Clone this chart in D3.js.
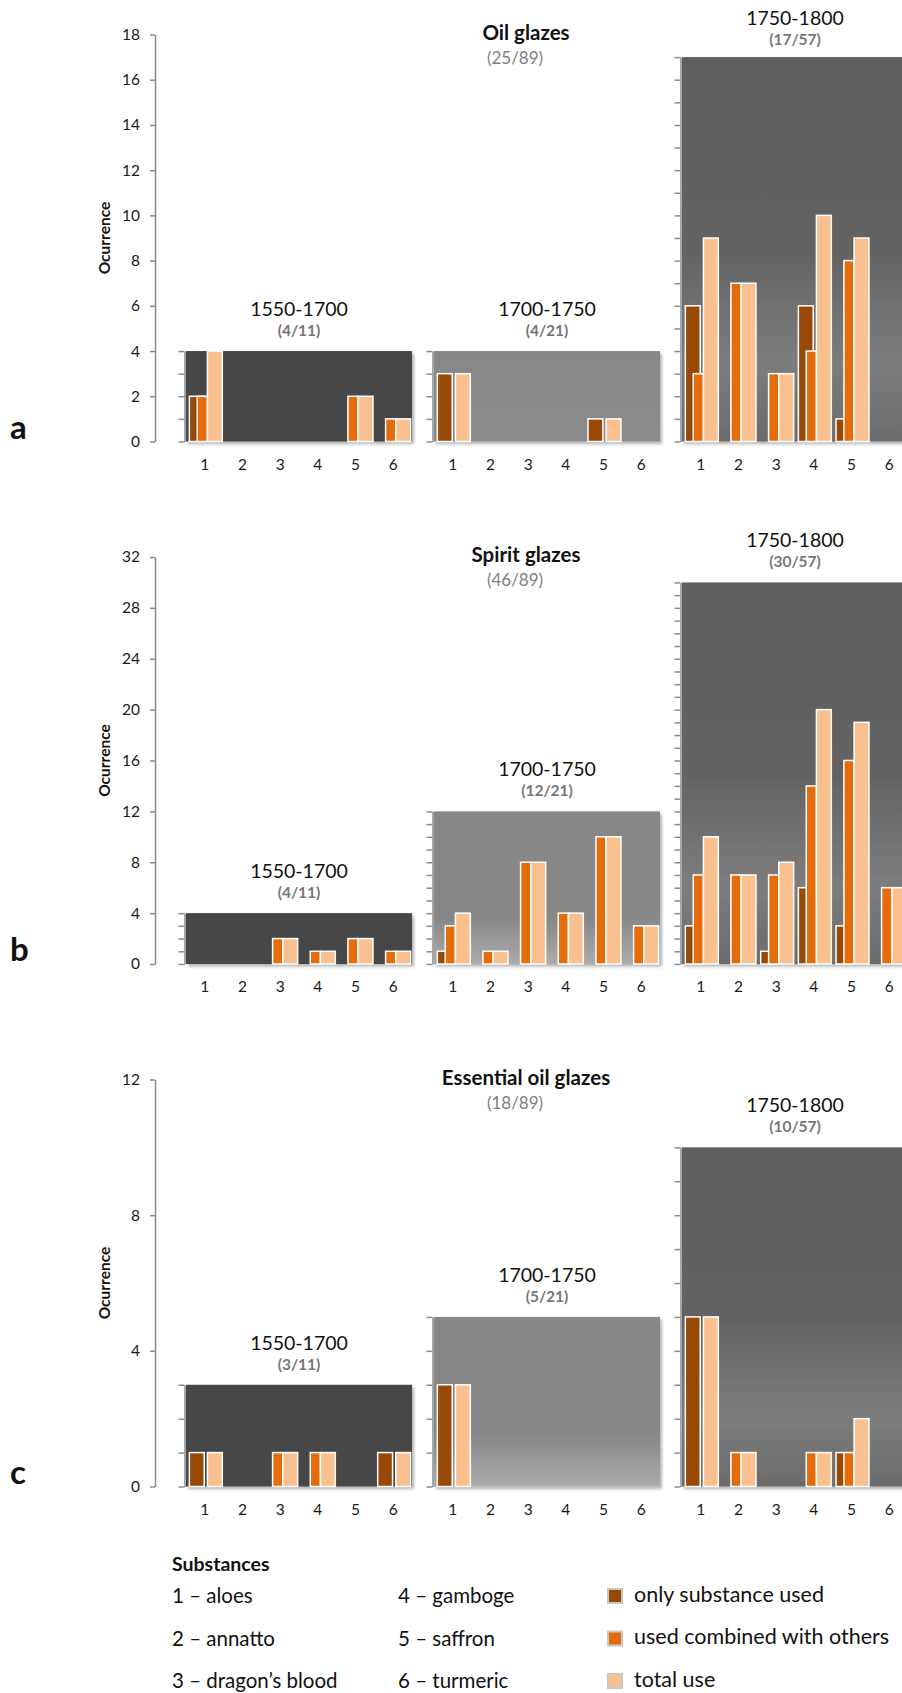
<!DOCTYPE html>
<html>
<head>
<meta charset="utf-8">
<script src="https://cdn.jsdelivr.net/npm/d3@7"></script>
<style>
  body { margin: 0; background: #fff; }
  svg { display: block; font-family: Lato, 'Open Sans', sans-serif; }
  .axis path, .axis line { stroke: #8a8a8a; stroke-width: 1.5; }
  .axis text { fill: #1a1a1a; font-size: 15.5px; font-family: Lato, sans-serif; }
</style>
</head>
<body>
<svg id="chart" width="902" height="1693"></svg>
<script>
const categories = [1, 2, 3, 4, 5, 6];
const periods = ['1550-1700', '1700-1750', '1750-1800'];
const periodTotals = [11, 21, 57];
const glazeTitles = ['Oil glazes', 'Spirit glazes', 'Essential oil glazes'];
const glazeCounts = [25, 46, 18];
const glazeTotal = 89;
const rowLetters = ['a', 'b', 'c'];
const yMax = [18, 32, 12];
const yStep = [2, 4, 4];
// samples per period: numerator of the small label and height of the grey box
const periodCounts = [[4, 4, 17], [4, 12, 30], [3, 5, 10]];

// per period, per substance 1..6
const oilOnly = [[2, 0, 0, 0, 0, 0], [3, 0, 0, 0, 1, 0], [6, 0, 0, 6, 1, 0]];
const oilCombined = [[2, 0, 0, 0, 2, 1], [0, 0, 0, 0, 0, 0], [3, 7, 3, 4, 8, 0]];
const oilTotal = [[4, 0, 0, 0, 2, 1], [3, 0, 0, 0, 1, 0], [9, 7, 3, 10, 9, 0]];

const spiritOnly = [[0, 0, 0, 0, 0, 0], [1, 0, 0, 0, 0, 0], [3, 0, 1, 6, 3, 0]];
const spiritCombined = [[0, 0, 2, 1, 2, 1], [3, 1, 8, 4, 10, 3], [7, 7, 7, 14, 16, 6]];
const spiritTotal = [[0, 0, 2, 1, 2, 1], [4, 1, 8, 4, 10, 3], [10, 7, 8, 20, 19, 6]];

const essentialOnly = [[1, 0, 0, 0, 0, 1], [3, 0, 0, 0, 0, 0], [5, 0, 0, 0, 1, 0]];
const essentialCombined = [[0, 0, 1, 1, 0, 0], [0, 0, 0, 0, 0, 0], [0, 1, 0, 1, 1, 0]];
const essentialTotal = [[1, 0, 1, 1, 0, 1], [3, 0, 0, 0, 0, 0], [5, 1, 0, 1, 2, 0]];

const substances = ['aloes', 'annatto', 'dragon’s blood', 'gamboge', 'saffron', 'turmeric'];
const seriesNames = ['only substance used', 'used combined with others', 'total use'];
const seriesColors = ['#984807', '#e46c0a', '#fac090'];

const onlyUsed = [oilOnly, spiritOnly, essentialOnly];
const combinedUsed = [oilCombined, spiritCombined, essentialCombined];
const totalUsed = [oilTotal, spiritTotal, essentialTotal];

const svg = d3.select('#chart');
const axisX = 155;
const panelLeft = 186;
const panelWidth = 226;
const panelStep = 248;
const rowHeight = 407;
const rowGap = 522.5;

const defs = svg.append('defs');

const shadow = defs.append('filter').attr('id', 'shadow')
  .attr('x', '-5%').attr('y', '-5%').attr('width', '115%').attr('height', '115%');
shadow.append('feDropShadow')
  .attr('dx', 2).attr('dy', 2.5).attr('stdDeviation', 1.8)
  .attr('flood-color', '#000').attr('flood-opacity', 0.3);

// gradient of each period box; the middle box only lightens in the taller rows
function panelStops(r, p) {
  if (p === 0) return [[0, '#474747'], [1, '#474747']];
  if (p === 1) {
    return r === 0
      ? [[0, '#878787'], [1, '#8b8b8b']]
      : [[0, '#878787'], [0.7, '#878787'], [1, '#acacac']];
  }
  return [[0, '#5e5e5e'], [0.5, '#636363'], [0.8, '#7d7d7d'], [1, '#6b6b6b']];
}

rowLetters.forEach((letter, r) => {
  const top = 34.5 + r * rowGap;
  const y = d3.scaleLinear().domain([0, yMax[r]]).range([top + rowHeight, top]);
  const row = svg.append('g');

  row.append('g')
    .attr('class', 'axis')
    .attr('transform', `translate(${axisX},0)`)
    .call(d3.axisLeft(y).tickValues(d3.range(0, yMax[r] + 1, yStep[r])).tickSize(5).tickSizeOuter(0).tickPadding(10));

  row.append('text')
    .attr('transform', `translate(110,${y(yMax[r] / 2)}) rotate(-90)`)
    .attr('text-anchor', 'middle')
    .attr('font-size', 15.5).attr('font-weight', 700).attr('fill', '#111')
    .text('Ocurrence');

  row.append('text')
    .attr('x', 10).attr('y', y(0) - 3)
    .attr('font-size', 33).attr('font-weight', 700).attr('fill', '#111')
    .text(letter);

  row.append('text')
    .attr('x', 526).attr('y', top + 5)
    .attr('text-anchor', 'middle')
    .attr('font-size', 20.5).attr('font-weight', 700).attr('fill', '#111')
    .text(glazeTitles[r]);

  row.append('text')
    .attr('x', 515).attr('y', top + 29)
    .attr('text-anchor', 'middle')
    .attr('font-size', 17).attr('fill', '#808080')
    .text(`(${glazeCounts[r]}/${glazeTotal})`);

  periods.forEach((period, p) => {
    const left = panelLeft + p * panelStep;
    const count = periodCounts[r][p];
    const x = d3.scaleBand().domain(categories).range([left, left + panelWidth]);
    const bw = x.bandwidth();
    const barW = bw * 0.395;
    const gap = bw * 0.085;
    const combW = bw * 0.27;
    const center = (c) => x(c) + bw / 2 + 1;
    const panel = row.append('g');

    const grad = defs.append('linearGradient').attr('id', `panel${r}${p}`)
      .attr('x1', 0).attr('y1', 0).attr('x2', 0).attr('y2', 1);
    panelStops(r, p).forEach(([offset, color]) => {
      grad.append('stop').attr('offset', offset).attr('stop-color', color);
    });

    panel.append('rect')
      .attr('x', left).attr('y', y(count))
      .attr('width', panelWidth).attr('height', y(0) - y(count))
      .attr('fill', `url(#panel${r}${p})`)
      .attr('filter', 'url(#shadow)');

    const sub = d3.scaleLinear().domain([0, count]).range([y(0), y(count)]);
    panel.append('g')
      .attr('class', 'axis')
      .attr('transform', `translate(${left - 1.5},0)`)
      .call(d3.axisLeft(sub).tickValues(d3.range(0, count + 1)).tickSize(6).tickSizeOuter(0).tickFormat(''));

    const labelY = Math.max(y(count) - 35, 25);
    panel.append('text')
      .attr('x', left + panelWidth / 2).attr('y', labelY)
      .attr('text-anchor', 'middle')
      .attr('font-size', 19.5).attr('fill', '#111')
      .text(period);
    panel.append('text')
      .attr('x', left + panelWidth / 2).attr('y', labelY + 20)
      .attr('text-anchor', 'middle')
      .attr('font-size', 15.5).attr('font-weight', 700).attr('fill', '#777')
      .text(`(${count}/${periodTotals[p]})`);

    const barSets = [
      { values: onlyUsed[r][p], color: seriesColors[0], w: barW, dx: -gap / 2 - barW },
      { values: combinedUsed[r][p], color: seriesColors[1], w: combW, dx: gap / 2 - combW },
      { values: totalUsed[r][p], color: seriesColors[2], w: barW, dx: gap / 2 },
    ];
    barSets.forEach((set) => {
      panel.append('g').selectAll('rect')
        .data(categories.map((c, i) => ({ c, v: set.values[i] })).filter((d) => d.v > 0))
        .join('rect')
        .attr('x', (d) => center(d.c) + set.dx)
        .attr('y', (d) => y(d.v))
        .attr('width', set.w)
        .attr('height', (d) => y(0) - y(d.v))
        .attr('fill', set.color)
        .attr('stroke', '#fff')
        .attr('stroke-width', 1.5);
    });

    panel.append('g')
      .selectAll('text')
      .data(categories)
      .join('text')
      .attr('x', (c) => x(c) + bw / 2)
      .attr('y', y(0) + 28)
      .attr('text-anchor', 'middle')
      .attr('font-size', 15.5).attr('fill', '#1a1a1a')
      .text((c) => c);
  });
});

// legend
const legend = svg.append('g');
legend.append('text')
  .attr('x', 172).attr('y', 1571)
  .attr('font-size', 19.5).attr('font-weight', 700).attr('fill', '#111')
  .text('Substances');

legend.selectAll('.substance')
  .data(substances)
  .join('text')
  .attr('class', 'substance')
  .attr('x', (d, i) => (i < 3 ? 172 : 398))
  .attr('y', (d, i) => 1603 + (i % 3) * 42.5)
  .attr('font-size', 20.5).attr('fill', '#111')
  .text((d, i) => `${i + 1} – ${d}`);

const keys = legend.selectAll('.key')
  .data(seriesNames)
  .join('g')
  .attr('class', 'key')
  .attr('transform', (d, i) => `translate(608,${1589 + i * 42.5})`);
keys.append('rect')
  .attr('width', 14).attr('height', 14)
  .attr('fill', (d, i) => seriesColors[i])
  .attr('stroke', '#c8c8c8').attr('stroke-width', 2);
keys.append('text')
  .attr('x', 26).attr('y', 12.5)
  .attr('font-size', 21.5).attr('fill', '#111')
  .text((d) => d);
</script>
</body>
</html>
